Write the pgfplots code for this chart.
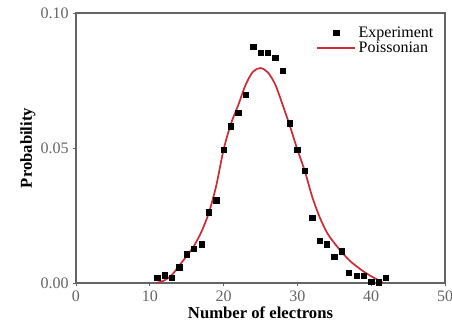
\documentclass[border=0pt]{standalone}
\usepackage{pgfplots}
\pgfplotsset{compat=1.18}
\usepackage{fontspec}
\setmainfont{Liberation Serif}
\definecolor{axgray}{RGB}{100,100,100}
\definecolor{fitred}{RGB}{205,45,55}
\pgfplotsset{
  markleg/.style={legend image code/.code={\draw[black, mark=square*, mark size=2pt] plot coordinates {(0.5cm,0cm)};}},
  lineleg/.style={legend image code/.code={\draw[fitred, line width=1.3pt] (0cm,0cm) -- (1cm,0cm);}},
}
\begin{document}
\begin{tikzpicture}
\path[use as bounding box] (-57pt,-33.75pt) rectangle (282pt,212.25pt);
\begin{axis}[
  scale only axis,
  width=276.75pt, height=202.5pt,
  xmin=0, xmax=50, ymin=0, ymax=0.10,
  xtick={0,10,20,30,40,50},
  ytick={0,0.05,0.10},
  yticklabel style={/pgf/number format/.cd,fixed,fixed zerofill,precision=2},
  /pgf/number format/assume math mode=true,
  tick label style={font=\fontsize{12}{13}\selectfont, text=axgray},
  axis line style={axgray, line width=0.8pt},
  tick style={axgray, line width=0.6pt},
  tick align=outside,
  major tick length=2pt,
  xtick pos=bottom, ytick pos=left,
  xlabel={\textbf{Number of electrons}},
  ylabel={\textbf{Probability}},
  label style={font=\fontsize{12.5}{13}\selectfont},
  xlabel style={yshift=3pt},
  ylabel style={yshift=-3pt},
  legend style={draw=none, fill=none, at={(0.98,0.965)}, anchor=north east,
    font=\fontsize{12}{13}\selectfont, row sep=-2pt, inner sep=1pt},
  legend cell align=left,
]
\addplot[only marks, mark=square*, mark size=2pt, black, markleg] coordinates {
(11,0.0020) (12,0.0029) (13,0.0020) (14,0.0058) (15,0.0107) (16,0.0126)
(17,0.0143) (18,0.0262) (19,0.0307) (20,0.0494) (21,0.0581) (22,0.0631)
(23,0.0697) (24,0.0875) (25,0.0853) (26,0.0853) (27,0.0833) (28,0.0786)
(29,0.0591) (30,0.0493) (31,0.0416) (32,0.0242) (33,0.0156) (34,0.0143)
(35,0.0096) (36,0.0117) (37,0.0037) (38,0.0026) (39,0.0027) (40,0.0005)
(41,0.0003) (42,0.0020)
};
\addlegendentry{Experiment}
\addplot[fitred, line width=1.3pt, smooth, lineleg] coordinates {
(10.9,0.0000) (12,0.0010) (13,0.0030) (14,0.0065) (15,0.0100) (16,0.0138)
(17,0.0190) (18,0.0260) (19,0.0360) (20,0.0494) (21,0.0590) (22,0.0660)
(23,0.0735) (24,0.0783) (25,0.0796) (26,0.0780) (27,0.0735) (28,0.0660)
(29,0.0580) (30,0.0494) (31,0.0415) (32,0.0320) (33,0.0245) (34,0.0187)
(35,0.0148) (36,0.0115) (37,0.0085) (38,0.0062) (39,0.0042) (40,0.0025)
(41,0.0010) (41.6,0.0000)
};
\addlegendentry{Poissonian}
\end{axis}
\end{tikzpicture}
\end{document}
